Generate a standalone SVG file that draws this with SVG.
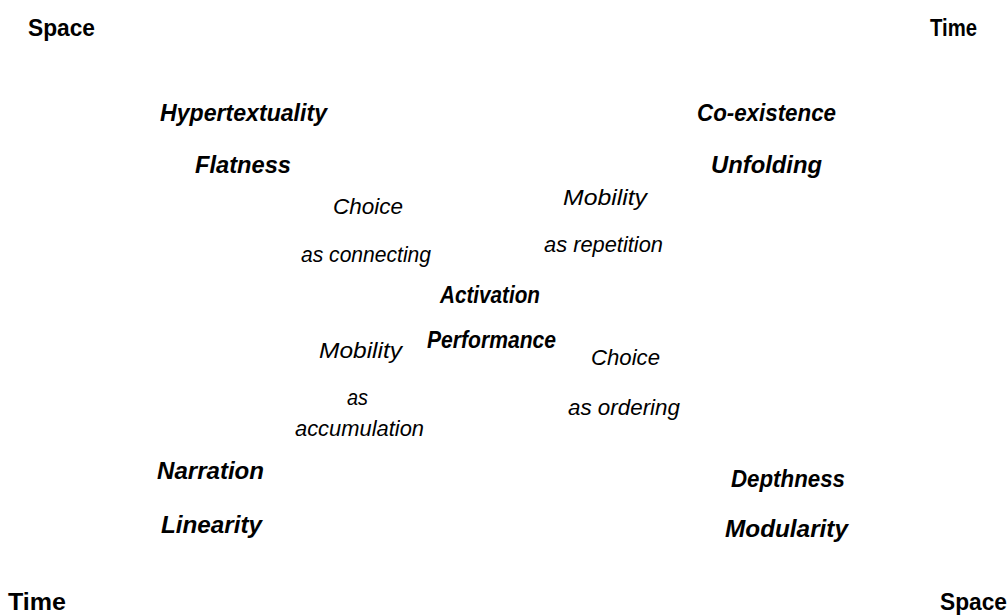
<svg xmlns="http://www.w3.org/2000/svg" width="1008" height="615" viewBox="0 0 1008 615">
  <style>
    text { font-family: "Liberation Sans", Arial, sans-serif; fill: #000; }
    .axis { font-size: 23px; font-weight: bold; }
    .key { font-size: 24px; font-weight: bold; font-style: italic; }
    .mode { font-size: 22px; font-style: italic; }
  </style>
  <rect width="1008" height="615" fill="#fff"/>

  <!-- corner axes -->
  <g id="axis-space-tl"><text class="axis" x="28" y="36" textLength="67" lengthAdjust="spacingAndGlyphs">Space</text></g>
  <g id="axis-time-tr"><text class="axis" x="930" y="36" textLength="47" lengthAdjust="spacingAndGlyphs">Time</text></g>
  <g id="axis-time-bl"><text class="axis" x="8" y="610" textLength="58" lengthAdjust="spacingAndGlyphs">Time</text></g>
  <g id="axis-space-br"><text class="axis" x="940" y="610" textLength="67" lengthAdjust="spacingAndGlyphs">Space</text></g>

  <!-- upper-left cluster -->
  <g id="hypertextuality"><text class="key" x="160" y="121" textLength="167" lengthAdjust="spacingAndGlyphs">Hypertextuality</text></g>
  <g id="flatness"><text class="key" x="195" y="173" textLength="96" lengthAdjust="spacingAndGlyphs">Flatness</text></g>

  <!-- upper-right cluster -->
  <g id="co-existence"><text class="key" x="697" y="121" textLength="139" lengthAdjust="spacingAndGlyphs">Co-existence</text></g>
  <g id="unfolding"><text class="key" x="711" y="173" textLength="111" lengthAdjust="spacingAndGlyphs">Unfolding</text></g>

  <!-- inner modes -->
  <g id="choice-connecting">
    <text class="mode" x="333" y="214" textLength="70" lengthAdjust="spacingAndGlyphs">Choice</text>
    <text class="mode" x="301" y="262" textLength="130" lengthAdjust="spacingAndGlyphs">as connecting</text>
  </g>
  <g id="mobility-repetition">
    <text class="mode" x="563" y="205" textLength="84" lengthAdjust="spacingAndGlyphs">Mobility</text>
    <text class="mode" x="544" y="252" textLength="119" lengthAdjust="spacingAndGlyphs">as repetition</text>
  </g>
  <g id="mobility-accumulation">
    <text class="mode" x="319" y="358" textLength="83" lengthAdjust="spacingAndGlyphs">Mobility</text>
    <text class="mode" x="347" y="405" textLength="21" lengthAdjust="spacingAndGlyphs">as</text>
    <text class="mode" x="295" y="436" textLength="129" lengthAdjust="spacingAndGlyphs">accumulation</text>
  </g>
  <g id="choice-ordering">
    <text class="mode" x="591" y="365" textLength="69" lengthAdjust="spacingAndGlyphs">Choice</text>
    <text class="mode" x="568" y="415" textLength="112" lengthAdjust="spacingAndGlyphs">as ordering</text>
  </g>

  <!-- centre -->
  <g id="activation"><text class="key" x="440" y="303" textLength="100" lengthAdjust="spacingAndGlyphs">Activation</text></g>
  <g id="performance"><text class="key" x="427" y="348" textLength="129" lengthAdjust="spacingAndGlyphs">Performance</text></g>

  <!-- lower-left cluster -->
  <g id="narration"><text class="key" x="157" y="479" textLength="107" lengthAdjust="spacingAndGlyphs">Narration</text></g>
  <g id="linearity"><text class="key" x="161" y="533" textLength="101" lengthAdjust="spacingAndGlyphs">Linearity</text></g>

  <!-- lower-right cluster -->
  <g id="depthness"><text class="key" x="731" y="487" textLength="114" lengthAdjust="spacingAndGlyphs">Depthness</text></g>
  <g id="modularity"><text class="key" x="725" y="537" textLength="123" lengthAdjust="spacingAndGlyphs">Modularity</text></g>

  <!-- no connectors in this figure -->
  <g id="connectors"/>
</svg>
